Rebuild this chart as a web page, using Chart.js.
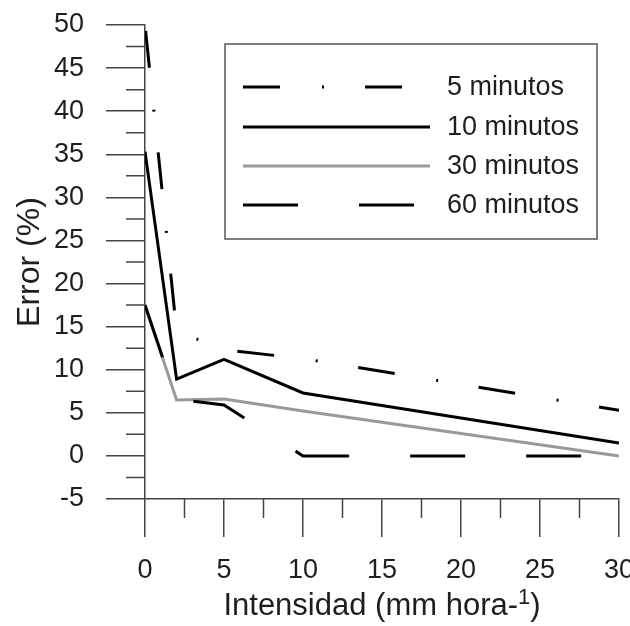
<!DOCTYPE html>
<html lang="es">
<head>
    <meta charset="UTF-8">
    <title>Error vs Intensidad</title>
    <script src="https://cdn.jsdelivr.net/npm/chart.js"></script>
    <style>
        body, html {
            margin: 0;
            padding: 0;
            background: #fff;
        }
        #wrap {
            width: 630px;
            height: 626px;
        }
    </style>
</head>
<body>
    <div id="wrap"><canvas id="chart" width="630" height="626"></canvas></div>

    <script>
        // Data
        const intensidad = [0, 2, 5, 10, 30];
        const error5 = [50, 14.5, 12.3, 11.3, 5.3];
        const error10 = [35.3, 8.9, 11.2, 7.3, 1.5];
        const error30 = [17.5, 6.5, 6.6, 5.2, 0];
        const error60 = [17.5, 6.6, 5.9, 0, 0];
        const seriesNames = ['5 minutos', '10 minutos', '30 minutos', '60 minutos'];

        const xMajorTicks = [0, 5, 10, 15, 20, 25, 30];
        const xMinorTicks = [2.5, 7.5, 12.5, 17.5, 22.5, 27.5];
        const yMajorTicks = [-5, 0, 5, 10, 15, 20, 25, 30, 35, 40, 45, 50];
        const yMinorTicks = [-2.5, 2.5, 7.5, 12.5, 17.5, 22.5, 27.5, 32.5, 37.5, 42.5, 47.5];

        const FONT = "'Liberation Sans', Arial, sans-serif";
        const AXIS = '#444';
        const TEXT = '#1e1e1e';

        const toPoints = ys => intensidad.map((x, i) => ({ x: x, y: ys[i] }));

        // minor tick marks (Chart.js has only one tick length per axis)
        const minorTicks = {
            id: 'minorTicks',
            afterDraw(chart) {
                const { ctx, scales: { x, y }, chartArea } = chart;
                ctx.save();
                ctx.strokeStyle = AXIS;
                ctx.lineWidth = 1.5;
                ctx.beginPath();
                xMinorTicks.forEach(v => {
                    const px = x.getPixelForValue(v);
                    ctx.moveTo(px, chartArea.bottom);
                    ctx.lineTo(px, chartArea.bottom + 19);
                });
                yMinorTicks.forEach(v => {
                    const py = y.getPixelForValue(v);
                    ctx.moveTo(chartArea.left - 19, py);
                    ctx.lineTo(chartArea.left, py);
                });
                ctx.stroke();
                ctx.restore();
            }
        };

        // x axis title with superscript
        const xTitle = {
            id: 'xTitle',
            afterDraw(chart) {
                const { ctx, chartArea } = chart;
                const main = 'Intensidad (mm hora-';
                const sup = '1';
                const tail = ')';
                ctx.save();
                ctx.fillStyle = TEXT;
                ctx.textBaseline = 'alphabetic';
                ctx.textAlign = 'left';
                ctx.font = '31px ' + FONT;
                const w1 = ctx.measureText(main).width;
                const w3 = ctx.measureText(tail).width;
                ctx.font = '22px ' + FONT;
                const w2 = ctx.measureText(sup).width;
                const cx = (chartArea.left + chartArea.right) / 2;
                const x0 = cx - (w1 + w2 + w3) / 2;
                const base = 615;
                ctx.font = '31px ' + FONT;
                ctx.fillText(main, x0, base);
                ctx.font = '22px ' + FONT;
                ctx.fillText(sup, x0 + w1, base - 11);
                ctx.font = '31px ' + FONT;
                ctx.fillText(tail, x0 + w1 + w2, base);
                ctx.restore();
            }
        };

        // boxed legend with line samples
        const boxLegend = {
            id: 'boxLegend',
            afterDraw(chart) {
                const { ctx } = chart;
                ctx.save();
                ctx.strokeStyle = '#555';
                ctx.lineWidth = 1.5;
                ctx.strokeRect(225, 44, 372, 195);
                const rows = [87, 127, 166, 205];
                chart.data.datasets.forEach((ds, i) => {
                    ctx.save();
                    ctx.strokeStyle = ds.borderColor;
                    ctx.lineWidth = ds.borderWidth;
                    ctx.setLineDash(ds.borderDash || []);
                    ctx.beginPath();
                    ctx.moveTo(243, rows[i]);
                    ctx.lineTo(430, rows[i]);
                    ctx.stroke();
                    ctx.restore();
                    ctx.fillStyle = TEXT;
                    ctx.font = '27px ' + FONT;
                    ctx.textBaseline = 'middle';
                    ctx.textAlign = 'left';
                    ctx.fillText(ds.label, 447, rows[i] + 1);
                });
                ctx.restore();
            }
        };

        new Chart(document.getElementById('chart'), {
            type: 'line',
            data: {
                datasets: [
                    {
                        label: seriesNames[0],
                        data: toPoints(error5),
                        borderColor: '#000',
                        borderWidth: 3,
                        borderDash: [37, 42, 2, 41],
                        borderDashOffset: -6,
                        order: 1
                    },
                    {
                        label: seriesNames[1],
                        data: toPoints(error10),
                        borderColor: '#000',
                        borderWidth: 3,
                        order: 2
                    },
                    {
                        label: seriesNames[2],
                        data: toPoints(error30),
                        borderColor: '#999',
                        borderWidth: 3,
                        order: 4
                    },
                    {
                        label: seriesNames[3],
                        data: toPoints(error60),
                        borderColor: '#000',
                        borderWidth: 3,
                        borderDash: [55, 61],
                        order: 3
                    }
                ]
            },
            options: {
                responsive: false,
                animation: false,
                layout: { padding: { top: 25, right: 11, bottom: 0, left: 0 } },
                elements: {
                    point: { radius: 0 },
                    line: { tension: 0, fill: false, borderCapStyle: 'butt' }
                },
                plugins: {
                    legend: { display: false },
                    tooltip: { enabled: false }
                },
                scales: {
                    x: {
                        type: 'linear',
                        min: 0,
                        max: 30,
                        afterBuildTicks: s => { s.ticks = xMajorTicks.map(v => ({ value: v })); },
                        afterFit: s => { s.height = 127; s.paddingLeft = 0; s.paddingRight = 0; },
                        grid: { drawOnChartArea: false, drawTicks: true, tickLength: 38, color: AXIS, lineWidth: 1.5 },
                        border: { color: AXIS, width: 1.5 },
                        ticks: { font: { family: FONT, size: 27 }, color: TEXT, padding: 17, maxRotation: 0, autoSkip: false }
                    },
                    y: {
                        min: -5,
                        max: 50,
                        afterBuildTicks: s => { s.ticks = yMajorTicks.map(v => ({ value: v })); },
                        afterFit: s => { s.width = 145; s.paddingTop = 0; s.paddingBottom = 0; },
                        grid: { drawOnChartArea: false, drawTicks: true, tickLength: 39, color: AXIS, lineWidth: 1.5 },
                        border: { color: AXIS, width: 1.5 },
                        ticks: { font: { family: FONT, size: 27 }, color: TEXT, padding: 22, autoSkip: false },
                        title: {
                            display: true,
                            text: 'Error (%)',
                            color: TEXT,
                            font: { family: FONT, size: 32 },
                            padding: { top: 11, bottom: 0 }
                        }
                    }
                }
            },
            plugins: [minorTicks, xTitle, boxLegend]
        });
    </script>
</body>
</html>
